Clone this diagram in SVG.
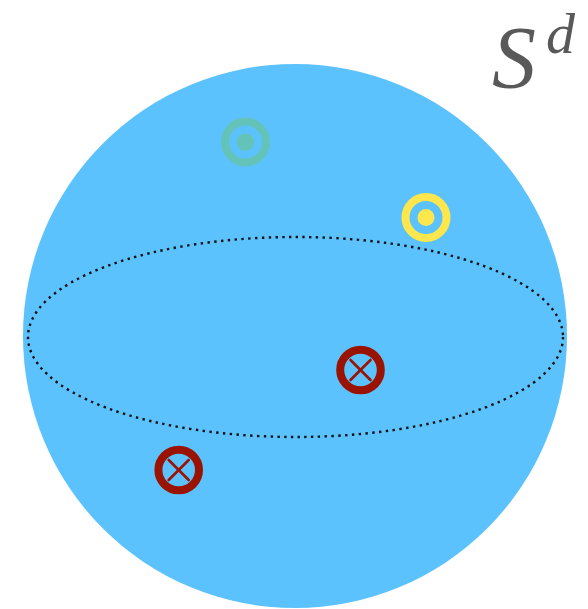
<svg xmlns="http://www.w3.org/2000/svg" width="588" height="609" viewBox="0 0 588 609">
<style>
.ring{fill:none;stroke-width:8}
.x{stroke:#9a1300;stroke-width:2.6;stroke-linecap:round}
.lbl{font-family:"Liberation Serif",serif;font-style:italic;fill:#595959}
</style>
<rect width="588" height="609" fill="#ffffff"/>
<g id="sphere">
<circle cx="295" cy="336" r="272" fill="#5cc2fe"/>
</g>
<g id="connectors">
<ellipse cx="295.5" cy="337" rx="267.5" ry="100" fill="none" stroke="#111" stroke-width="2.4" stroke-dasharray="2.4 4.4"/>
</g>
<g id="teal">
<circle class="ring" cx="245.5" cy="142" r="20.5" stroke="#64c3b9"/>
<circle cx="245.5" cy="142" r="8.8" fill="#64c3b9"/>
</g>
<g id="yellow">
<circle class="ring" cx="426" cy="217.5" r="20.5" stroke="#fde74c"/>
<circle cx="426" cy="217.5" r="8.5" fill="#fde74c"/>
</g>
<g id="red1">
<circle class="ring" cx="360.5" cy="370" r="20.3" stroke="#9a1300"/>
<line class="x" x1="350.5" y1="360" x2="370.5" y2="380"/>
<line class="x" x1="370.5" y1="360" x2="350.5" y2="380"/>
</g>
<g id="red2">
<circle class="ring" cx="178.7" cy="470" r="20.3" stroke="#9a1300"/>
<line class="x" x1="168.7" y1="460" x2="188.7" y2="480"/>
<line class="x" x1="188.7" y1="460" x2="168.7" y2="480"/>
</g>
<g id="label">
<text class="lbl" x="492" y="87" font-size="88">S</text>
<text class="lbl" x="546" y="53" font-size="58">d</text>
</g>
</svg>
